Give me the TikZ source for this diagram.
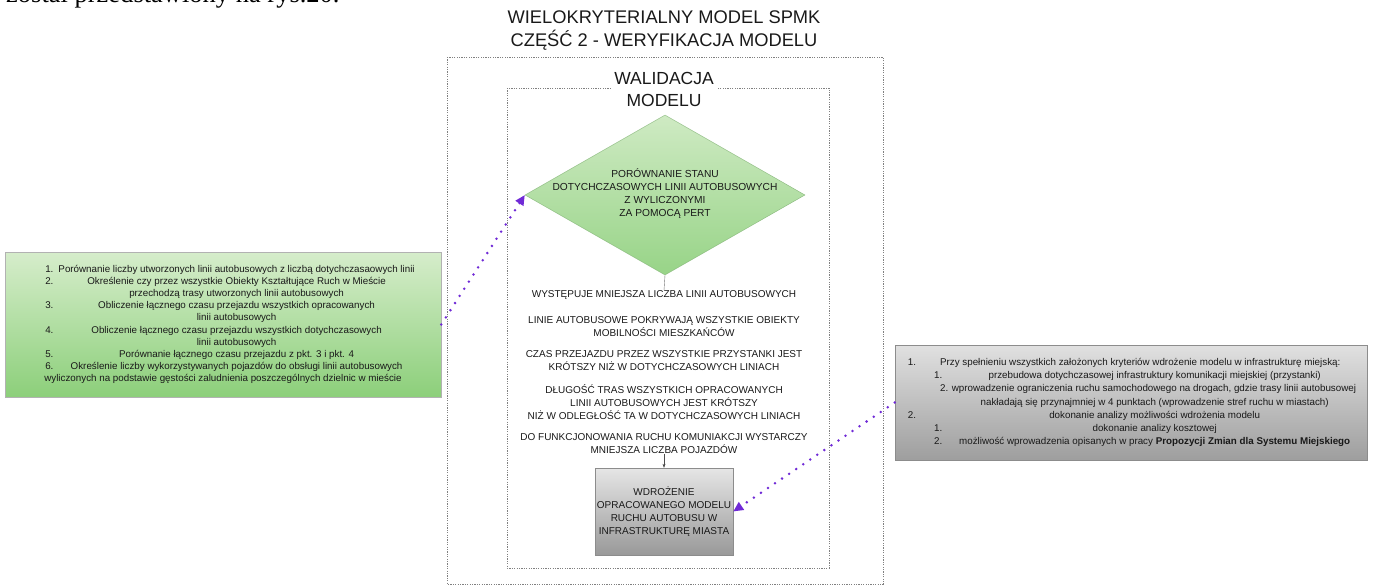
\documentclass[tikz,border=0pt]{standalone}
\usepackage{fontspec}
\setmainfont{Liberation Sans}
\newfontfamily\szeryf{Liberation Serif}
\usetikzlibrary{shapes.geometric,arrows.meta}
\definecolor{fiolet}{RGB}{112,42,214}
\definecolor{zielonyjasny}{RGB}{214,237,203}
\definecolor{zielony}{RGB}{140,207,122}
\definecolor{napis}{RGB}{25,25,25}

\begin{document}
\begin{tikzpicture}[x=1pt,y=-1pt,
  ramka/.style={draw=black!50,line width=0.6pt,dash pattern=on 1.2pt off 1.2pt},
  tekst/.style={align=center,text=napis,inner sep=0pt,font=\fontsize{10}{13}\selectfont},
  kropki/.style={draw=fiolet,line width=2.8pt,line cap=round,dash pattern=on 0pt off 8.5pt,
    -{Triangle[length=10pt,width=9pt]}}]
  \useasboundingbox (0,0) rectangle (1373,586);

  % tekst z poprzedniej strony
  \node[anchor=base west,inner sep=0pt,font=\szeryf\fontsize{26.5}{26.5}\selectfont] (wstep) at (6,3) {został przedstawiony na rys.20.};

  \node[tekst,font=\fontsize{18.3}{23}\selectfont] (tytul) at (664,31) {WIELOKRYTERIALNY MODEL SPMK\\CZĘŚĆ 2 - WERYFIKACJA MODELU};
  \draw[ramka] (447,57) rectangle (883,584);
  \draw[ramka] (507,88) rectangle (829,568);
  \node[tekst,fill=white,inner sep=3pt,font=\fontsize{17.5}{22}\selectfont] (walidacja) at (664,89) {WALIDACJA\\MODELU};

  % romb
  \node[diamond,draw=zielony!70!gray,top color=zielonyjasny!90!zielony,bottom color=zielony!90,
    minimum width=280pt,minimum height=160pt,inner sep=0pt] (porownanie) at (665,195) {};
  \node[tekst,font=\fontsize{10.2}{13}\selectfont] (porownanieTekst) at (665,194) {PORÓWNANIE STANU\\DOTYCHCZASOWYCH LINII AUTOBUSOWYCH\\Z WYLICZONYMI\\ZA POMOCĄ PERT};

  % warunki
  \node[tekst] (w1) at (664,295) {WYSTĘPUJE MNIEJSZA LICZBA LINII AUTOBUSOWYCH};
  \node[tekst] (w2) at (664,326.5) {LINIE AUTOBUSOWE POKRYWAJĄ WSZYSTKIE OBIEKTY\\MOBILNOŚCI MIESZKAŃCÓW};
  \node[tekst] (w3) at (664,360.5) {CZAS PRZEJAZDU PRZEZ WSZYSTKIE PRZYSTANKI JEST\\KRÓTSZY NIŻ W DOTYCHCZASOWYCH LINIACH};
  \node[tekst] (w4) at (664,402.5) {DŁUGOŚĆ TRAS WSZYSTKICH OPRACOWANYCH\\LINII AUTOBUSOWYCH JEST KRÓTSZY\\NIŻ W ODLEGŁOŚĆ TA W DOTYCHCZASOWYCH LINIACH};
  \node[tekst] (w5) at (664,443.5) {DO FUNKCJONOWANIA RUCHU KOMUNIAKCJI WYSTARCZY\\MNIEJSZA LICZBA POJAZDÓW};

  \node[tekst,draw=black!45,top color=black!10,bottom color=black!40,
    minimum width=138pt,minimum height=87pt] (wdrozenie) at (664,511.5) {WDROŻENIE\\OPRACOWANEGO MODELU\\RUCHU AUTOBUSU W\\INFRASTRUKTURĘ MIASTA};

  \draw[black!55] (porownanie.south) -- (w1.north);
  \draw[black!70,-{Stealth[length=4pt,width=3pt]}] (w5.south) -- (wdrozenie.north);

  % opis z lewej
  \node[tekst,draw=black!30,top color=zielonyjasny,bottom color=zielony,
    minimum width=436pt,minimum height=145pt,font=\fontsize{9.8}{12.2}\selectfont] (kryteria) at (223,324.5) {%
    \begin{tabular}{@{\hspace{14pt}}l@{\hspace{5pt}}c@{}}
    1. & Porównanie liczby utworzonych linii autobusowych z liczbą dotychczasaowych linii\\
    2. & Określenie czy przez wszystkie Obiekty Kształtujące Ruch w Mieście\\
       & przechodzą trasy utworzonych linii autobusowych\\
    3. & Obliczenie łącznego czasu przejazdu wszystkich opracowanych\\
       & linii autobusowych\\
    4. & Obliczenie łącznego czasu przejazdu wszystkich dotychczasowych\\
       & linii autobusowych\\
    5. & Porównanie łącznego czasu przejazdu z pkt. 3 i pkt. 4\\
    6. & Określenie liczby wykorzystywanych pojazdów do obsługi linii autobusowych\\
    \multicolumn{2}{c}{wyliczonych na podstawie gęstości zaludnienia poszczególnych dzielnic w mieście}
    \end{tabular}};

  % opis z prawej
  \node[tekst,draw=black!45,top color=black!12,bottom color=black!38,
    minimum width=472pt,minimum height=115pt,font=\fontsize{9.8}{13.2}\selectfont] (wdrozenieOpis) at (1131,402.5) {%
    \begin{tabular}{@{\hspace{8pt}}l@{\hspace{18pt}}l@{\hspace{5pt}}c@{}}
    1. & \multicolumn{2}{l}{Przy spełnieniu wszystkich założonych kryteriów wdrożenie modelu w infrastrukturę miejską:}\\
       & 1. & przebudowa dotychczasowej infrastruktury komunikacji miejskiej (przystanki)\\
       & \multicolumn{2}{l}{2. wprowadzenie ograniczenia ruchu samochodowego na drogach, gdzie trasy linii autobusowej}\\
       & & nakładają się przynajmniej w 4 punktach (wprowadzenie stref ruchu w miastach)\\
    2. & & dokonanie analizy możliwości wdrożenia modelu\\
       & 1. & dokonanie analizy kosztowej\\
       & 2. & możliwość wprowadzenia opisanych w pracy \textbf{Propozycji Zmian dla Systemu Miejskiego}
    \end{tabular}};

  \draw[kropki] (kryteria.east) -- (porownanie.west);
  \draw[kropki] (wdrozenieOpis.west) -- (wdrozenie.east);
\end{tikzpicture}
\end{document}
